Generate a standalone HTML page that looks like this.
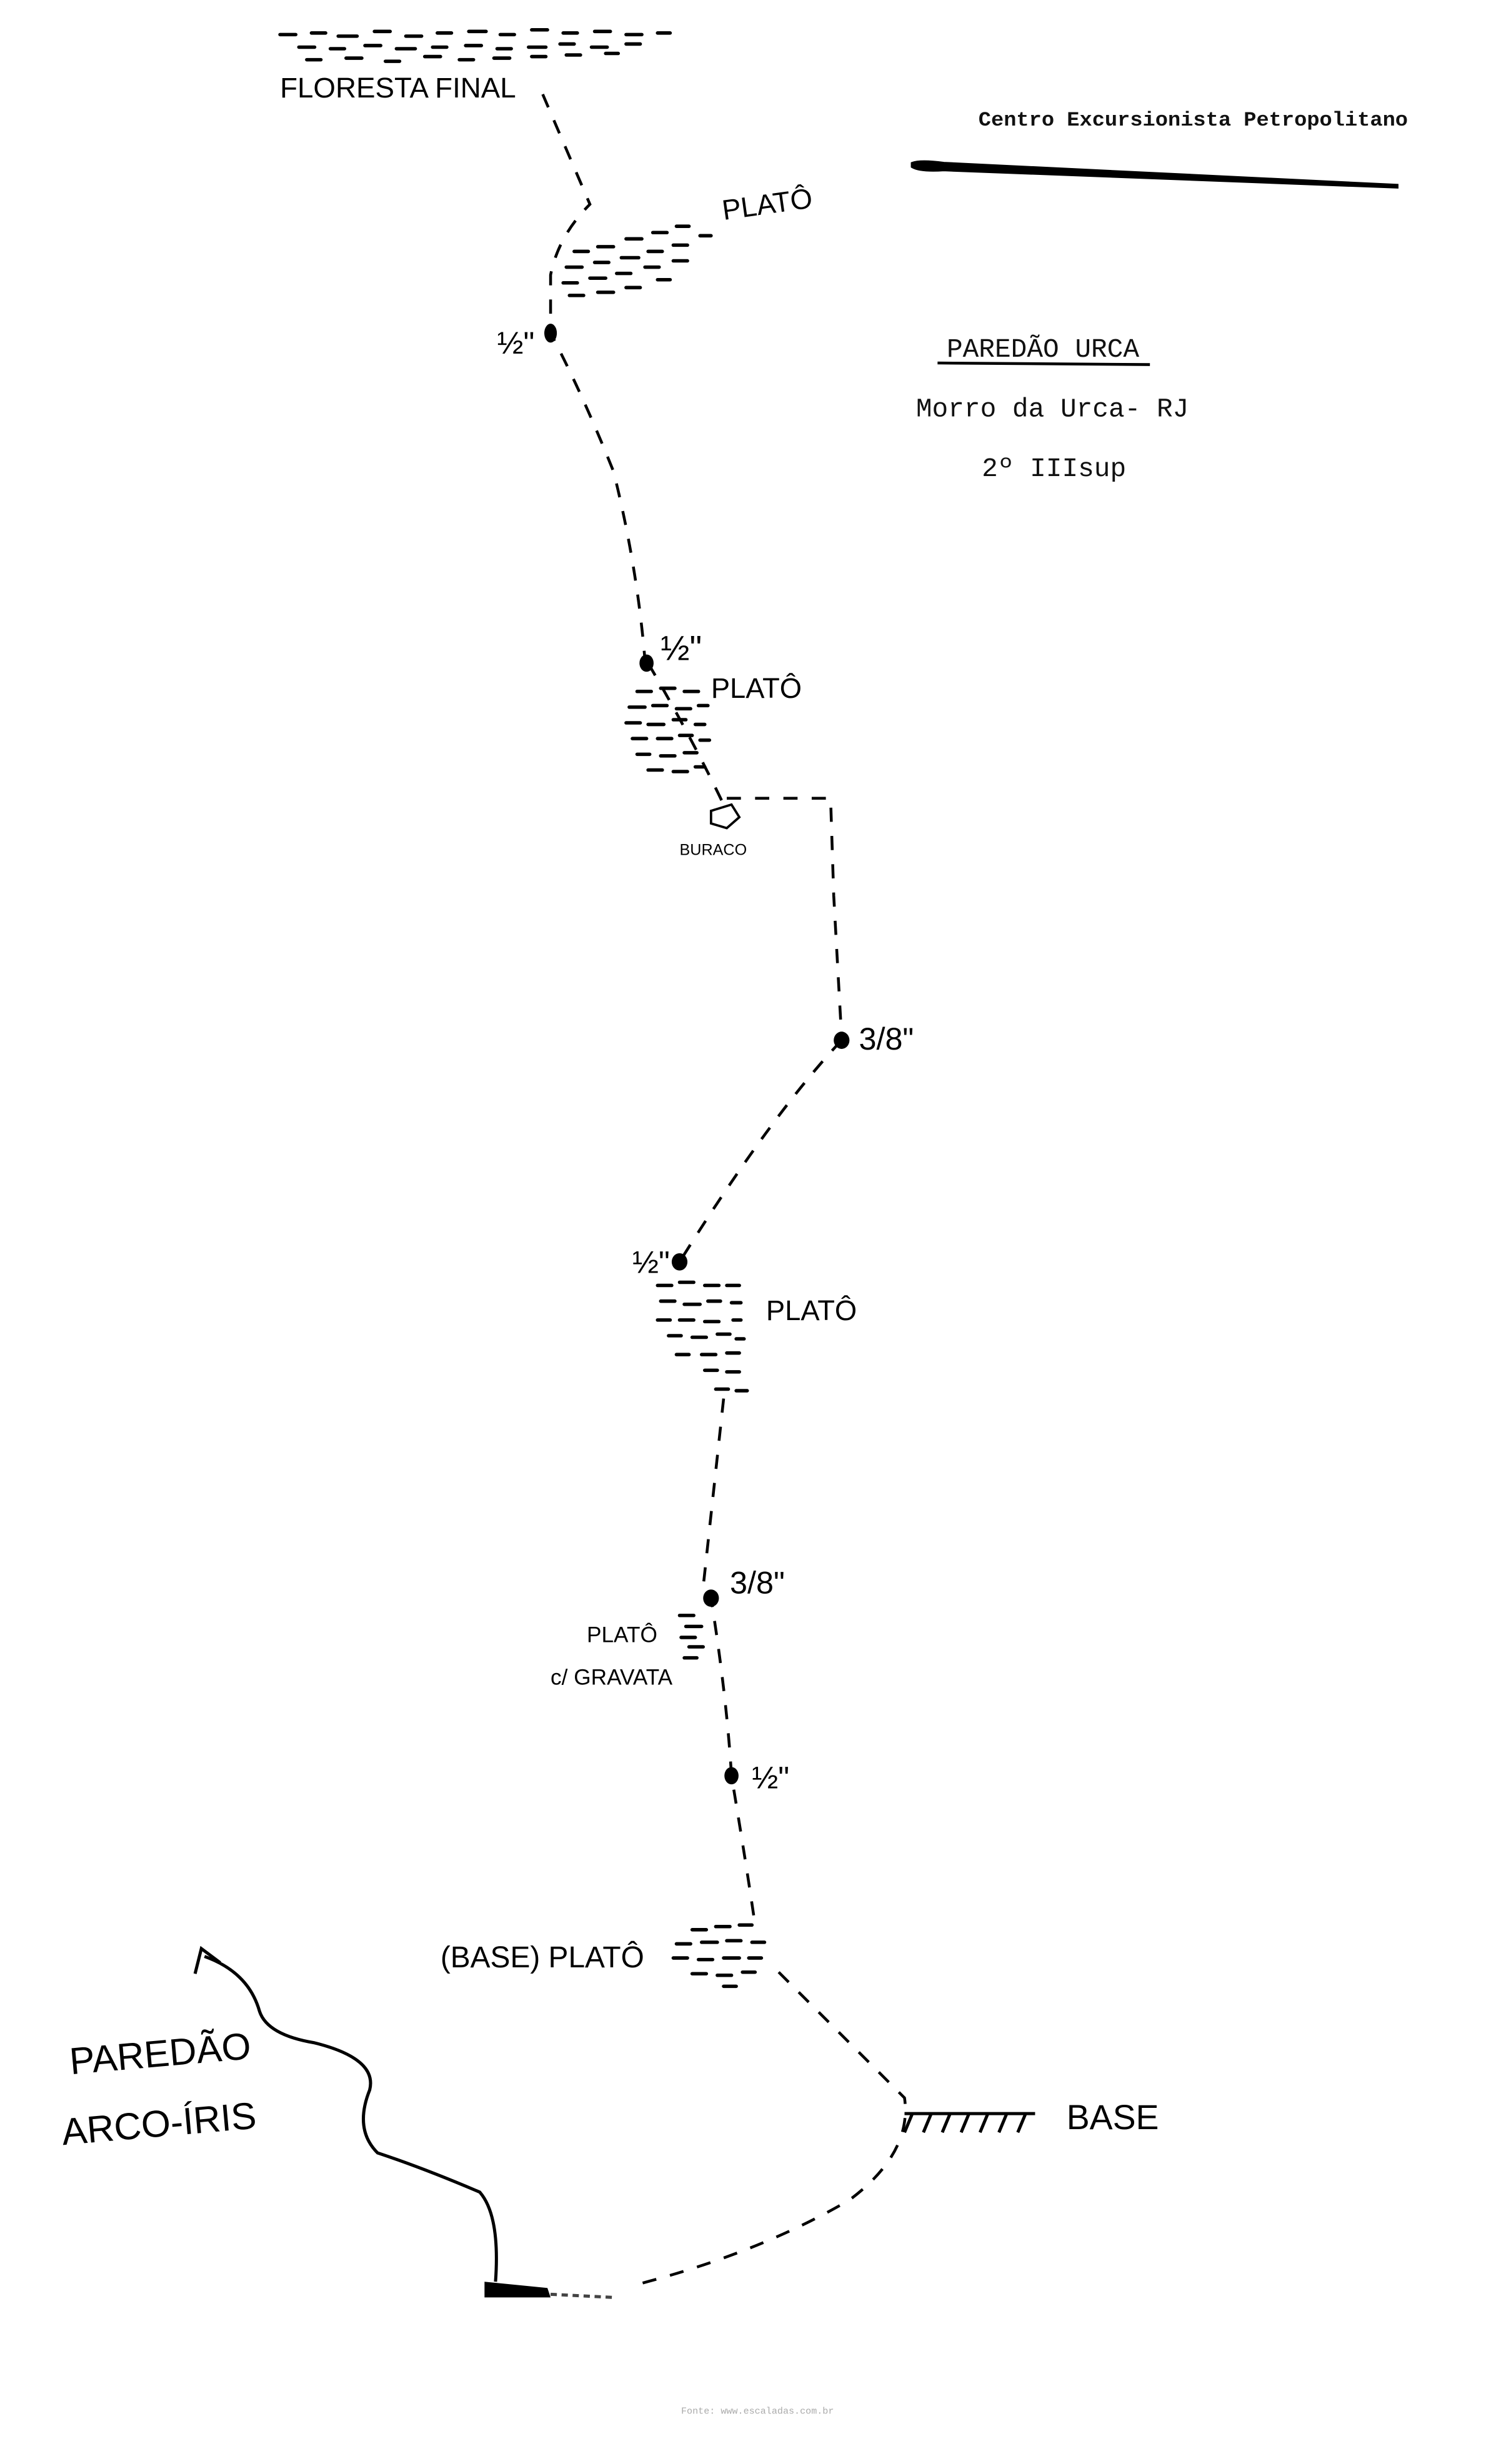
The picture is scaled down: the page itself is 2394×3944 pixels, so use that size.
<!DOCTYPE html>
<html><head><meta charset="utf-8"><style>
html,body{margin:0;padding:0;background:#fff;}
svg{display:block;}
.hand{font-family:"Liberation Sans",sans-serif;fill:#000;}
.typ{font-family:"Liberation Mono",monospace;fill:#111;}
</style></head><body>
<svg width="2394" height="3944" viewBox="0 0 951 1568" preserveAspectRatio="none" xmlns="http://www.w3.org/2000/svg">
<rect width="951" height="1568" fill="#fff"/>
<g stroke="#000" stroke-width="2.2" fill="none" stroke-linecap="round">
<path d="M178 22h10M198 21h9M215 23h12M238 20h10M258 23h10M278 21h9M298 20h11M318 22h9M338 19h10M358 21h9M378 20h10M398 22h10M418 21h8M190 30h10M210 31h9M232 29h10M252 31h12M275 30h9M296 29h10M316 31h9M336 30h11M356 28h9M376 30h10M398 28h9M195 38h9M220 37h10M245 39h9M270 36h10M292 38h9M314 37h10M338 36h9M360 35h9M385 34h8"/>
<path d="M365 160h9M380 157h10M398 152h10M415 148h9M430 144h8M360 170h10M378 167h9M395 164h11M412 160h9M428 156h9M445 150h7M358 180h9M375 177h10M392 174h9M410 170h9M428 166h9M362 188h9M380 186h10M398 183h9M418 178h8"/>
<path d="M405 440h9M420 438h9M435 440h9M400 450h10M415 449h9M430 451h9M444 449h6M398 460h9M412 461h10M428 458h8M442 461h6M402 470h9M418 470h9M432 468h8M445 471h6M405 480h8M420 481h9M435 479h8M412 490h9M428 491h9M442 488h6"/>
<path d="M418 818h9M432 816h9M448 818h9M462 818h8M420 828h9M435 830h10M450 828h8M465 829h6M418 840h8M432 840h9M448 841h9M466 840h5M425 850h8M440 851h9M456 849h8M468 852h5M430 862h8M446 862h9M462 861h8M448 872h8M462 873h8M455 884h8M468 885h7"/>
<path d="M432 1028h9M436 1035h10M433 1042h9M438 1048h9M435 1055h8"/>
<path d="M440 1228h9M455 1226h9M470 1225h8M430 1237h9M446 1236h10M462 1235h9M478 1236h8M428 1246h9M444 1247h9M460 1246h10M476 1246h8M440 1256h9M456 1257h9M472 1255h8M460 1264h8"/>
</g>
<g stroke="#000" stroke-width="1.8" fill="none" stroke-dasharray="9 9">
<path d="M345 60 Q360 95 375 130 Q355 150 350 175 L350 212 Q370 250 390 300 Q405 360 410 420"/>
<path d="M412 422 Q440 470 460 512"/>
<path d="M462 508 L528 508 L530 570 L535 660"/>
<path d="M535 662 Q490 710 432 803"/>
<path d="M460 890 L447 1010 L452 1017 Q462 1080 465 1130 Q475 1190 480 1225"/>
<path d="M495 1255 L575 1335 Q580 1370 540 1400 Q480 1435 400 1455"/>
</g>
<path d="M452 516 L465 512 L470 520 L462 527 L452 524 Z" stroke="#000" stroke-width="1.5" fill="none"/>
<g fill="#000">
<ellipse cx="350" cy="212" rx="4" ry="6"/>
<ellipse cx="411" cy="422" rx="4.5" ry="5.5"/>
<ellipse cx="535" cy="662" rx="5" ry="5.5"/>
<ellipse cx="432" cy="803" rx="5" ry="5.5"/>
<ellipse cx="452" cy="1017" rx="5" ry="5.5"/>
<ellipse cx="465" cy="1130" rx="4.5" ry="5.5"/>
<path d="M308 1452 L348 1456 L350 1462 L308 1462 Z"/>
</g>
<path d="M350 1460 L390 1462" stroke="#444" stroke-width="2" stroke-dasharray="4 3"/>
<g stroke="#000" stroke-width="2" fill="none">
<path d="M575 1345 L658 1345"/>
<path d="M580 1345 l-5 12 M592 1345 l-5 12 M604 1345 l-5 12 M616 1345 l-5 12 M628 1345 l-5 12 M640 1345 l-5 12 M652 1345 l-5 12"/>
</g>
<path d="M315 1452 Q318 1410 305 1395 Q270 1380 240 1370 Q225 1355 235 1330 Q240 1310 200 1300 Q170 1295 165 1280 Q158 1255 130 1245" stroke="#000" stroke-width="2" fill="none"/>
<path d="M124 1256 L128 1240 L140 1249" stroke="#000" stroke-width="2" fill="none"/>
<path d="M580 104 Q585 102 600 104 L888 118 L888 119 L600 108 Q585 109 580 106Z" fill="#000" stroke="#000" stroke-width="2"/>
<text x="622" y="80" class="typ" font-size="13" font-weight="bold" textLength="273" lengthAdjust="spacingAndGlyphs">Centro Excursionista Petropolitano</text>
<text x="663" y="227" class="typ" font-size="17" text-anchor="middle">PAREDÃO URCA</text>
<path d="M596 231 L731 232" stroke="#000" stroke-width="1.8"/>
<text x="669" y="265" class="typ" font-size="17" text-anchor="middle">Morro da Urca- RJ</text>
<text x="670" y="303" class="typ" font-size="17" text-anchor="middle">2º IIIsup</text>
<g class="hand">
<text x="178" y="62" font-size="18" textLength="150" lengthAdjust="spacingAndGlyphs">FLORESTA FINAL</text>
<text x="460" y="140" font-size="18" transform="rotate(-8 460 140)">PLATÔ</text>
<text x="316" y="225" font-size="20">½"</text>
<text x="420" y="420" font-size="22">½"</text>
<text x="452" y="444" font-size="18">PLATÔ</text>
<text x="432" y="544" font-size="10">BURACO</text>
<text x="546" y="668" font-size="20">3/8"</text>
<text x="402" y="810" font-size="20">½"</text>
<text x="487" y="840" font-size="18">PLATÔ</text>
<text x="464" y="1014" font-size="20">3/8"</text>
<text x="373" y="1045" font-size="14">PLATÔ</text>
<text x="350" y="1072" font-size="14">c/ GRAVATA</text>
<text x="478" y="1138" font-size="20">½"</text>
<text x="280" y="1252" font-size="19">(BASE) PLATÔ</text>
<text x="678" y="1355" font-size="22">BASE</text>
<text x="45" y="1320" font-size="24" transform="rotate(-5 45 1320)">PAREDÃO</text>
<text x="40" y="1365" font-size="24" transform="rotate(-5 40 1365)">ARCO-ÍRIS</text>
</g>
<text x="433" y="1536" font-family="Liberation Mono,monospace" font-size="6" fill="#aaa">Fonte: www.escaladas.com.br</text>
</svg>
</body></html>
